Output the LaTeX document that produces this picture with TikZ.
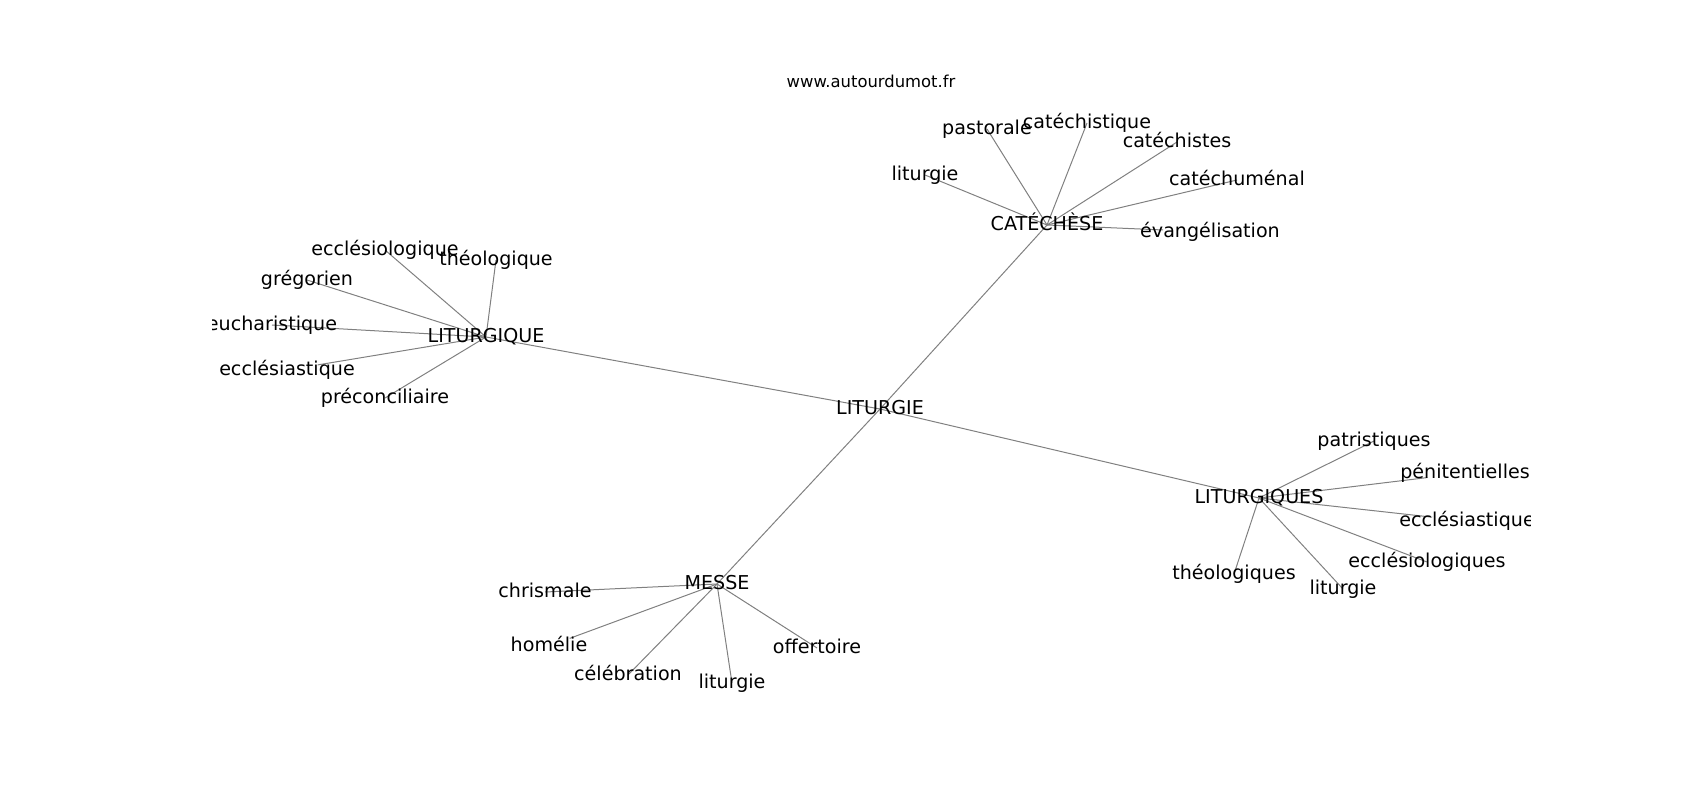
\documentclass[tikz,border=0pt]{standalone}
\usepackage{fontspec}
\setmainfont{DejaVu Sans}
\usetikzlibrary{backgrounds}

\begin{document}
\begin{tikzpicture}[x=1pt,y=-1pt,
    palabra/.style={inner sep=0pt, text height=1.1em, text depth=0pt, font=\fontsize{19.1}{22}\selectfont},
    arista/.style={draw=gray, line width=1pt}]
                \useasboundingbox (0,0) rectangle (1700,800);
                % Título
                \node[palabra, font=\fontsize{16.4}{19}\selectfont] (titulo) at (871,82) {www.autourdumot.fr};

                \begin{scope}
                \clip (212.5,96) rectangle (1530,712);
                % Centro
                \node[palabra] (liturgie) at (880,409) {LITURGIE};
                % Grupo LITURGIQUE
                \node[palabra] (liturgique) at (486,337) {LITURGIQUE};
                \node[palabra] (ecclesiologique) at (385,250) {ecclésiologique};
                \node[palabra] (theologique) at (496,260) {théologique};
                \node[palabra] (gregorien) at (307,280) {grégorien};
                \node[palabra] (eucharistique) at (272,325) {eucharistique};
                \node[palabra] (ecclesiastiqueA) at (287,370) {ecclésiastique};
                \node[palabra] (preconciliaire) at (385,398) {préconciliaire};
                % Grupo CATÉCHÈSE
                \node[palabra] (catechese) at (1047,225) {CATÉCHÈSE};
                \node[palabra] (liturgieA) at (925,175) {liturgie};
                \node[palabra] (pastorale) at (987,129) {pastorale};
                \node[palabra] (catechistique) at (1087,123) {catéchistique};
                \node[palabra] (catechistes) at (1177,142) {catéchistes};
                \node[palabra] (catechumenal) at (1237,180) {catéchuménal};
                \node[palabra] (evangelisation) at (1210,232) {évangélisation};
                % Grupo LITURGIQUES
                \node[palabra] (liturgiques) at (1259,498) {LITURGIQUES};
                \node[palabra] (patristiques) at (1374,441) {patristiques};
                \node[palabra] (penitentielles) at (1465,473) {pénitentielles};
                \node[palabra] (ecclesiastiqueB) at (1467,521) {ecclésiastique};
                \node[palabra] (ecclesiologiques) at (1427,562) {ecclésiologiques};
                \node[palabra] (theologiques) at (1234,574) {théologiques};
                \node[palabra] (liturgieB) at (1343,589) {liturgie};
                % Grupo MESSE
                \node[palabra] (messe) at (717,584) {MESSE};
                \node[palabra] (chrismale) at (545,592) {chrismale};
                \node[palabra] (homelie) at (549,646) {homélie};
                \node[palabra] (celebration) at (628,675) {célébration};
                \node[palabra] (liturgieC) at (732,683) {liturgie};
                \node[palabra] (offertoire) at (817,648) {offertoire};
                \end{scope}

                \begin{pgfonlayer}{background}
                % Aristas del centro
                \draw[arista] (liturgie.center) -- (liturgique.center);
                \draw[arista] (liturgie.center) -- (catechese.center);
                \draw[arista] (liturgie.center) -- (liturgiques.center);
                \draw[arista] (liturgie.center) -- (messe.center);
                % Aristas de LITURGIQUE
                \draw[arista] (liturgique.center) -- (ecclesiologique.center);
                \draw[arista] (liturgique.center) -- (theologique.center);
                \draw[arista] (liturgique.center) -- (gregorien.center);
                \draw[arista] (liturgique.center) -- (eucharistique.center);
                \draw[arista, shorten >=31pt] (liturgique.center) -- (ecclesiastiqueA.center);
                \draw[arista] (liturgique.center) -- (preconciliaire.center);
                % Aristas de CATÉCHÈSE
                \draw[arista] (catechese.center) -- (liturgieA.center);
                \draw[arista] (catechese.center) -- (pastorale.center);
                \draw[arista] (catechese.center) -- (catechistique.center);
                \draw[arista] (catechese.center) -- (catechistes.center);
                \draw[arista] (catechese.center) -- (catechumenal.center);
                \draw[arista, shorten >=47pt] (catechese.center) -- (evangelisation.center);
                % Aristas de LITURGIQUES
                \draw[arista] (liturgiques.center) -- (patristiques.center);
                \draw[arista, shorten >=38pt] (liturgiques.center) -- (penitentielles.center);
                \draw[arista, shorten >=35pt] (liturgiques.center) -- (ecclesiastiqueB.center);
                \draw[arista] (liturgiques.center) -- (ecclesiologiques.center);
                \draw[arista] (liturgiques.center) -- (theologiques.center);
                \draw[arista] (liturgiques.center) -- (liturgieB.center);
                % Aristas de MESSE
                \draw[arista] (messe.center) -- (chrismale.center);
                \draw[arista, shorten >=22pt] (messe.center) -- (homelie.center);
                \draw[arista] (messe.center) -- (celebration.center);
                \draw[arista] (messe.center) -- (liturgieC.center);
                \draw[arista] (messe.center) -- (offertoire.center);
                \end{pgfonlayer}
            \end{tikzpicture}
\end{document}
